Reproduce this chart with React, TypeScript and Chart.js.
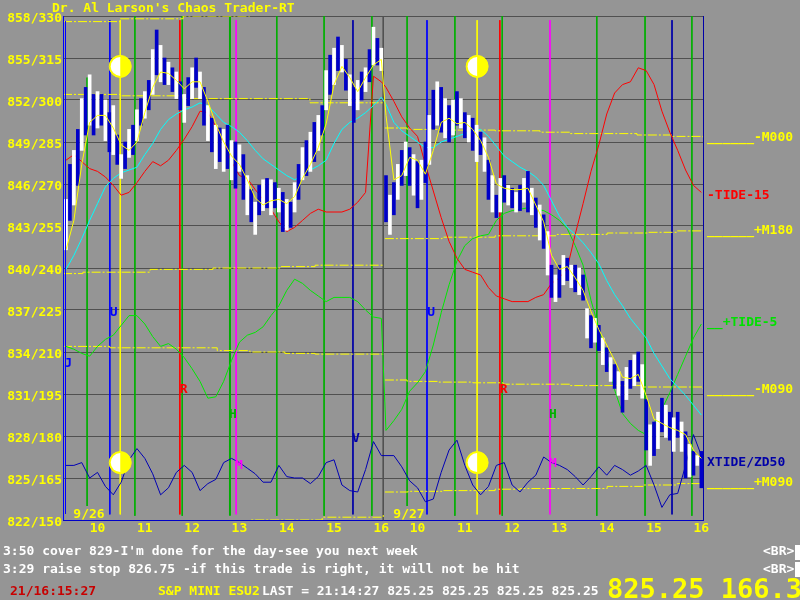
import React, { useEffect, useRef } from "react";
import { Chart, registerables } from "chart.js";

Chart.register(...registerables);

const FONT = '"DejaVu Sans Mono", "Liberation Mono", monospace';
const BG = "#959595";
const DAY2_SHIFT = 6.765; // second session placed after the first on a shared hour axis
const X_MIN = 9.27;
const X_MAX = 22.8;

// ---------------- data ----------------
const barTimes = [
  "9:20", "9:25", "9:30", "9:35", "9:40", "9:45", "9:50", "9:55",
  "10:00", "10:05", "10:10", "10:15", "10:20", "10:25", "10:30", "10:35", "10:40", "10:45", "10:50", "10:55",
  "11:00", "11:05", "11:10", "11:15", "11:20", "11:25", "11:30", "11:35", "11:40", "11:45", "11:50", "11:55",
  "12:00", "12:05", "12:10", "12:15", "12:20", "12:25", "12:30", "12:35", "12:40", "12:45", "12:50", "12:55",
  "13:00", "13:05", "13:10", "13:15", "13:20", "13:25", "13:30", "13:35", "13:40", "13:45", "13:50", "13:55",
  "14:00", "14:05", "14:10", "14:15", "14:20", "14:25", "14:30", "14:35", "14:40", "14:45", "14:50", "14:55",
  "15:00", "15:05", "15:10", "15:15", "15:20", "15:25", "15:30", "15:35", "15:40", "15:45", "15:50", "15:55",
  "16:00",
];
const lineTimes = barTimes.filter((_, i) => i % 2 === 0);

// price bars [low, high]
const priceDay1 = [
  [841.3, 844.9], [843.4, 847.4], [844.5, 848.4], [845.9, 849.9], [848.4, 852.1], [849.5, 852.9], [850.2, 853.8], [849.5, 852.4], [850, 852.6], [850.2, 852.4],
  [849.1, 852], [848.3, 851.1], [848.1, 851.6], [847.4, 849.5], [846.4, 848.1], [847.1, 849], [847.9, 849.9], [848.1, 850.2], [849.1, 851.3], [850.2, 852.1],
  [850.7, 852.6], [851.3, 853.4], [852.4, 855.6], [853.8, 857], [853.3, 855.9], [853.1, 855], [853.1, 854.7], [852.6, 854.3], [852.1, 854], [851.3, 853.3],
  [850.4, 852.4], [851.6, 853.6], [852.1, 854.3], [852.9, 855], [852.1, 854], [850.2, 852.9], [849.1, 851.6], [848.3, 850.7], [847.1, 850.2], [847.6, 850],
  [846.9, 849.9], [847.1, 850.2], [846.3, 849.1], [845.7, 849], [846.9, 848.8], [844.9, 848.1], [843.8, 846.6], [843.3, 845.6], [842.4, 844.7], [843.8, 845.9],
  [844.1, 846.3], [844.3, 846.4], [843.8, 846.3], [844.3, 846.1], [844, 845.7], [842.6, 845.4], [842.7, 844.9], [842.9, 844.7], [844, 846.1], [844.9, 847.4],
  [846.3, 848.6], [846.6, 849.1], [846.9, 849.7], [847.6, 850.4], [848.4, 850.9], [849.5, 851.6], [851.3, 854.1], [852.4, 855.2], [853.1, 855.7], [854.1, 856.5],
  [854, 855.9], [852.7, 854.9], [851.6, 853.8], [850.4, 852.9], [851.3, 853.4], [852, 854], [852.6, 854.3], [853.3, 855.6], [854.5, 857.2], [854.5, 856.4],
  [854.1, 855.7],
];
const priceDay2 = [
  [843.3, 846.6], [842.4, 845.2], [843.8, 846.1], [844.9, 847.4], [845.9, 848.4], [846.6, 849], [845.9, 848.6], [845.2, 848.1], [844.3, 847.6], [844.9, 847.7],
  [846.1, 849], [847.4, 850.9], [849.9, 852.7], [850.2, 853.3], [849.7, 852.9], [849.3, 852.1], [849, 851.6], [849.5, 852], [850.2, 852.6], [850, 852.1],
  [849.3, 851.1], [849, 850.9], [848.4, 850.7], [847.6, 850.2], [848.1, 849.7], [846.9, 849.3], [844.9, 847.7], [844, 846.6], [843.6, 845.2], [844, 846.4],
  [844.7, 846.6], [844.5, 845.9], [844.3, 845.7], [844, 845.4], [844.1, 845.9], [844.7, 846.4], [844, 846.9], [843.8, 845.7], [842.9, 845], [842, 844.5],
  [841.4, 843.8], [839.5, 842.6], [837.9, 840.2], [837.6, 839.5], [837.9, 840.2], [838.8, 840.9], [839.1, 840.7], [838.6, 840.2], [838.3, 840.2], [838.1, 840],
  [837.7, 839.5], [835, 837.1], [834.3, 836.6], [834.7, 836.4], [834.1, 835.9], [833.1, 835], [832.6, 834.3], [831.9, 833.6], [831.4, 833.1], [830.9, 832.6],
  [829.7, 831.9], [830.6, 832.9], [831.4, 833.4], [831.6, 833.8], [831.9, 834], [830.7, 833.1], [827, 830.6], [825.9, 828.8], [826.6, 829], [827.1, 829.7],
  [828.3, 830.7], [827.9, 830.2], [827.7, 829.7], [826.9, 829.3], [827.9, 829.7], [826.9, 829], [825, 828.3], [825.1, 827.4], [825.2, 826.9], [825.9, 826.6],
  [824.3, 826.9],
];

// fast average (yellow)
const avgFastDay1 = [841.3, 843.4, 847.4, 850.4, 850.9, 850.9, 850, 848.8, 848.4, 849, 851.1, 852.9, 854, 853.9, 853.4, 852.8, 853.3, 853.3, 851.9, 850.3, 849, 848, 847.4, 846.3, 845, 844.5, 844.8, 844.9, 844.6, 845.1, 846.4, 847.4, 848.6, 850.3, 853.1, 854.4, 853.6, 852.6, 853.6, 854.5, 854.9];
const avgFastDay2 = [850.9, 846.3, 846.6, 847.9, 847.7, 846.7, 848.4, 850.4, 850.7, 850.3, 850.4, 849.9, 849.1, 847.9, 846, 845.7, 845.6, 845.6, 845.7, 844.5, 843.3, 840.9, 839.9, 840.1, 839.3, 838.4, 836.9, 835.6, 834.5, 833.4, 832.2, 832.1, 832.4, 830.9, 829.2, 828.9, 828.6, 828.4, 828.1, 827, 826.4];
// slow average (cyan)
const avgSlowDay1 = [839.9, 840.9, 842.1, 843.4, 844.6, 845.8, 846.4, 846.8, 847, 847.2, 848.1, 848.9, 849.9, 850.6, 851, 851.3, 851.5, 851.8, 851.6, 851, 850.4, 850.1, 849.7, 849.1, 848.4, 847.8, 847.4, 847, 846.6, 846.3, 846.6, 847, 847.3, 847.7, 848.9, 849.9, 850.4, 850.7, 851.1, 851.6, 852.2];
const avgSlowDay2 = [851.7, 850.4, 849.8, 849.4, 849, 848.6, 848.6, 849, 849.2, 849.4, 849.6, 849.8, 849.9, 849.4, 848.7, 848, 847.6, 847.2, 846.9, 846.5, 845.9, 844.8, 843.7, 842.9, 842.4, 841.8, 841.1, 840.3, 839.1, 838.1, 837.3, 836.4, 835.7, 835, 833.9, 833, 832.1, 831.5, 830.9, 830.2, 829.5];
// -TIDE-15 (red)
const tide15Day1 = [847.7, 848.1, 847.6, 847.1, 846.9, 846.5, 845.9, 845.2, 845.4, 846.1, 846.9, 847.6, 847.3, 847.7, 848.4, 849.2, 850.1, 851.2, 851.1, 850.1, 848.9, 847.6, 846.6, 846.4, 845.6, 844.9, 844.2, 843.3, 842.6, 842.9, 843.4, 843.9, 844.2, 844, 844, 844, 844.2, 844.7, 845.4, 853.7, 853.3];
const tide15Day2 = [852.9, 851.9, 850.8, 850, 849.4, 847.4, 845.5, 843.6, 841.9, 840.7, 839.9, 839.7, 839.5, 838.6, 838, 837.8, 837.6, 837.6, 837.6, 837.9, 838.1, 838.9, 839.3, 840, 842.4, 844.6, 846.9, 848.8, 851, 852.5, 853.1, 853.3, 854.3, 854.1, 853.1, 851.2, 849.7, 848.4, 847, 845.9, 845.4];
// +TIDE-5 (green)
const tide5Day1 = [834.4, 834.2, 833.9, 833.7, 834.4, 834.9, 835.2, 835.9, 836.6, 836.6, 836, 835.1, 834.4, 834.6, 834.2, 833.6, 832.8, 831.9, 830.7, 830.8, 831.9, 833.4, 834.7, 835.2, 835.4, 835.8, 836.6, 837.3, 838.4, 839.2, 838.9, 838.4, 838, 837.6, 837.9, 837.9, 837.9, 837.6, 837, 836.5, 836.4];
const tide5Day2 = [828.4, 829.1, 829.9, 831.2, 831.8, 832.6, 834.5, 836.8, 838.8, 840.5, 841.6, 842.1, 842.3, 842.4, 843.4, 843.9, 844.1, 844.2, 844.3, 844.2, 844.1, 843.8, 843.4, 842.8, 841.6, 840.2, 837.7, 835.7, 833.6, 831.3, 829.6, 828.9, 828.4, 828.1, 828.9, 829.9, 831.1, 832.4, 833.7, 835, 836];
// XTIDE/ZD50 (dark blue)
const xtideDay1 = [825.9, 825.9, 826.1, 825, 825.4, 824.4, 823.8, 824.7, 826.3, 827.1, 826.4, 825.3, 823.8, 824.3, 825.4, 825.9, 825.4, 824.1, 824.6, 824.9, 826.1, 826.4, 826.1, 825.7, 825.3, 824.7, 824.7, 825.9, 825.1, 825, 825, 824.6, 825.1, 826.1, 826.3, 824.5, 824.1, 824, 825.6, 827.6, 826.6];
const xtideDay2 = [826.6, 826.6, 825.8, 824.8, 824.3, 823.3, 823.5, 825.4, 827, 827.7, 825.9, 824.5, 823.8, 824.4, 825.9, 826.1, 824.5, 824, 824.7, 825.2, 826.5, 826.1, 825.9, 825.6, 825.1, 824.5, 825.1, 825.8, 825.2, 825.9, 825.6, 825.2, 825.5, 825.9, 824.5, 822.9, 823.8, 823.9, 825.9, 828.1, 826.6];

// M levels [hour, price], stepped
const mDay1A = [[9.27, 857.6], [10.48, 857.8], [11.81, 858], [13.22, 858]];
const mDay1B = [[9.27, 852.4], [10.48, 852.3], [11.81, 852.1], [14.49, 851.8], [16.04, 851.8]];
const mDay1C = [[9.27, 839.6], [9.69, 839.7], [11.11, 839.9], [12.44, 840], [13.86, 840.1], [14.6, 840.2], [16.04, 840.2]];
const mDay1D = [[9.27, 834.4], [10.26, 834.3], [12.53, 834.1], [13.22, 834], [13.96, 833.9], [14.6, 833.85], [16.04, 833.8]];
const mDay1E = [[9.27, 821.8], [13.22, 822], [14.75, 822.2], [16.04, 822.4]];
const m000Day2 = [[9.31, 850], [9.78, 849.9], [10.43, 849.85], [11.64, 849.8], [12.59, 849.7], [13.22, 849.6], [14.64, 849.5], [15.39, 849.4], [16.04, 849.3]];
const m180Day2 = [[9.31, 842.1], [10.52, 842.2], [11.64, 842.3], [12.95, 842.4], [14.01, 842.5], [14.86, 842.55], [15.49, 842.65], [16.04, 842.7]];
const m090Day2 = [[9.31, 832], [9.78, 831.9], [10.43, 831.85], [11.17, 831.8], [11.81, 831.7], [13.22, 831.6], [14.77, 831.5], [16.04, 831.35]];
const p090Day2 = [[9.31, 824], [9.8, 824.05], [10.52, 824.1], [11.64, 824.2], [12.17, 824.25], [14.01, 824.4], [14.77, 824.5], [15.49, 824.6], [16.04, 824.7]];

// vertical time markers
const verticalHoursDay1 = [9.78, 10.26, 10.48, 10.79, 11.74, 11.79, 12.8, 12.93, 13.79, 14.79, 15.4, 15.8, 16.04];
const verticalKindsDay1 = ["g", "b", "y", "g", "r", "g", "G", "m", "g", "g", "n", "g", "k"];
const verticalTopsDay1 = [853.6, 857.7, 857.7, 858, 857.7, 858, 858, 857.7, 858, 858, 857.7, 858, 858];
const verticalBottomsDay1 = [823, 822.4, 822.4, 822.3, 822.4, 822.3, 822.3, 822.4, 822.3, 822.3, 822.4, 822.3, 822];
const verticalHoursDay2 = [9.78, 10.2, 10.79, 11.26, 11.74, 11.79, 12.8, 13.79, 14.81, 15.38, 15.8];
const verticalKindsDay2 = ["g", "b", "g", "y", "r", "g", "m", "g", "g", "n", "g"];
const verticalTopsDay2 = [858, 857.7, 858, 857.7, 857.7, 858, 857.7, 858, 858, 857.7, 858];
const verticalBottomsDay2 = [823, 822.4, 822.3, 822.4, 822.4, 822.3, 822.4, 822.3, 822.3, 822.4, 822.3];

// letter markers
const markerLetters = ["J", "U", "R", "H", "M", "V", "U", "R", "H", "M"];
const markerDays = [0, 0, 0, 0, 0, 0, 1, 1, 1, 1];
const markerHours = [9.38, 10.34, 11.82, 12.86, 12.99, 15.46, 10.29, 11.82, 12.86, 12.86];
const markerPrices = [833.2, 836.8, 831.3, 829.5, 825.9, 827.8, 836.8, 831.3, 829.5, 826.0];
const markerKinds = ["b", "b", "r", "g", "m", "n", "b", "r", "g", "m"];

// moon symbols
const moonDays = [0, 0, 1, 1];
const moonHours = [10.48, 10.48, 11.26, 11.26];
const moonPrices = [854.4, 826.1, 854.4, 826.1];

// session date labels
const dateLabels = ["9/26", "9/27"];
const dateHours = [9.82, 9.82];
const datePrice = 822.4;

// axis labels
const yTickPrices = [822, 825, 828, 831, 834, 837, 840, 843, 846, 849, 852, 855, 858];
const yTickAlt = [150, 165, 180, 195, 210, 225, 240, 255, 270, 285, 300, 315, 330];
const xTickHours = [10, 11, 12, 13, 14, 15, 16];

// right-hand labels
const rightLabelTexts = ["______-M000", "-TIDE-15", "______+M180", "__+TIDE-5", "______-M090", "XTIDE/ZD50", "______+M090"];
const rightLabelPrices = [849.3, 845.2, 842.7, 836.1, 831.3, 826.1, 824.7];
const rightLabelKinds = ["y", "r", "y", "g2", "y", "n", "y"];

// message lines
const messages = [
  "3:50 cover 829-I'm done for the day-see you next week",
  "3:29 raise stop 826.75 -if this trade is right, it will not be hit",
];
const statusClock = "21/16:15:27";
const statusSymbol = "S&P MINI ESU2";
const statusLast = "LAST = 21:14:27 825.25 825.25 825.25 825.25";
const statusBig = "825.25 166.3";

// ---------------- styles ----------------
const COLORS: Record<string, string> = {
  g: "#00b000",
  G: "#00b000",
  g2: "#00e000",
  b: "#0000ff",
  n: "#0000a8",
  y: "#ffff00",
  r: "#ff0000",
  m: "#ff00ff",
  k: "#505050",
};

const hourOf = (t: string) => {
  const [h, m] = t.split(":").map(Number);
  return h + m / 60;
};
const axisX = (day: number, hour: number) => hour + day * DAY2_SHIFT;

const joinDays = (d1: number[], d2: number[]) => [
  ...d1.map((y, i) => ({ x: axisX(0, hourOf(lineTimes[i])), y })),
  ...d2.map((y, i) => ({ x: axisX(1, hourOf(lineTimes[i])), y })),
];
const stepPts = (day: number, pts: number[][]) => pts.map(([h, y]) => ({ x: axisX(day, h), y }));

function lineDs(data: any[], color: string, order: number, extra: any = {}) {
  return {
    type: "line",
    data,
    borderColor: color,
    backgroundColor: color,
    borderWidth: 1,
    pointRadius: 0,
    tension: 0,
    fill: false,
    order,
    ...extra,
  };
}

function buildDatasets() {
  const ds: any[] = [];
  const addVerticals = (day: number, hours: number[], kinds: string[], tops: number[], bottoms: number[]) => {
    hours.forEach((h, i) => {
      const x = axisX(day, h);
      ds.push(
        lineDs([{ x, y: tops[i] }, { x, y: bottoms[i] }], COLORS[kinds[i]], 20, {
          borderWidth: kinds[i] === "G" ? 2 : 1,
        })
      );
    });
  };
  addVerticals(0, verticalHoursDay1, verticalKindsDay1, verticalTopsDay1, verticalBottomsDay1);
  addVerticals(1, verticalHoursDay2, verticalKindsDay2, verticalTopsDay2, verticalBottomsDay2);

  const mStyle = { stepped: "before", borderDash: [9, 2, 2, 2] };
  [mDay1A, mDay1B, mDay1C, mDay1D, mDay1E].forEach((m) => ds.push(lineDs(stepPts(0, m), "#ffff00", 15, mStyle)));
  [m000Day2, m180Day2, m090Day2, p090Day2].forEach((m) => ds.push(lineDs(stepPts(1, m), "#ffff00", 15, mStyle)));

  ds.push(lineDs(joinDays(xtideDay1, xtideDay2), "#0000b4", 8));
  ds.push(lineDs(joinDays(tide5Day1, tide5Day2), "#00e800", 8));
  ds.push(lineDs(joinDays(tide15Day1, tide15Day2), "#ff0000", 7));
  ds.push(lineDs(joinDays(avgSlowDay1, avgSlowDay2), "#00ffff", 6));

  const bars = [
    ...priceDay1.map((r, i) => ({ x: axisX(0, hourOf(barTimes[i])), y: r })),
    ...priceDay2.map((r, i) => ({ x: axisX(1, hourOf(barTimes[i])), y: r })),
  ];
  // alternate white / blue strokes like the terminal's bar rendering
  const barColors = bars.map((_, i) => (i % 2 === 0 ? "#ffffff" : "#0000c8"));
  ds.push({
    type: "bar",
    data: bars,
    backgroundColor: barColors,
    borderWidth: 0,
    barThickness: 3,
    grouped: false,
    order: 3,
  });

  ds.push(lineDs(joinDays(avgFastDay1, avgFastDay2), "#ffff00", 1));
  return ds;
}

function txt(ctx: any, s: string, x: number, y: number, color: string, size = 13, align = "left", baseline = "middle") {
  ctx.font = `bold ${size}px ${FONT}`;
  ctx.fillStyle = color;
  ctx.textAlign = align;
  ctx.textBaseline = baseline;
  ctx.fillText(s, x, y);
}

function drawMoon(ctx: any, cx: number, cy: number, r: number) {
  ctx.beginPath();
  ctx.arc(cx, cy, r, 0, Math.PI * 2);
  ctx.fillStyle = "#ffff00";
  ctx.fill();
  ctx.beginPath();
  ctx.arc(cx, cy, r - 1.5, Math.PI / 2, (Math.PI * 3) / 2);
  ctx.closePath();
  ctx.fillStyle = "#ffffff";
  ctx.fill();
  ctx.beginPath();
  ctx.arc(cx, cy, r, 0, Math.PI * 2);
  ctx.strokeStyle = "#ffff00";
  ctx.lineWidth = 1;
  ctx.stroke();
}

const overlay = {
  id: "overlay",
  afterDatasetsDraw(chart: any) {
    const { ctx, chartArea: a, scales } = chart;
    const x = scales.x;
    const y = scales.y;
    ctx.save();
    ctx.lineWidth = 1;
    const seg = (x1: number, y1: number, x2: number, y2: number, c: string) => {
      ctx.beginPath();
      ctx.moveTo(x1, y1);
      ctx.lineTo(x2, y2);
      ctx.strokeStyle = c;
      ctx.stroke();
    };
    seg(a.left + 0.5, a.top, a.left + 0.5, a.bottom, "#0000ff");
    seg(a.left + 2.5, a.top + 5, a.left + 2.5, a.bottom - 6, "#0000ff");
    seg(a.right + 0.5, a.top, a.right + 0.5, a.bottom, "#0000a8");
    seg(a.left, a.bottom + 0.5, a.right + 1, a.bottom + 0.5, "#0000c8");

    moonHours.forEach((h, i) => {
      drawMoon(ctx, x.getPixelForValue(axisX(moonDays[i], h)), y.getPixelForValue(moonPrices[i]), 11);
    });
    markerLetters.forEach((l, i) => {
      txt(ctx, l, x.getPixelForValue(axisX(markerDays[i], markerHours[i])), y.getPixelForValue(markerPrices[i]), COLORS[markerKinds[i]], 13, "center");
    });
    dateLabels.forEach((l, i) => {
      txt(ctx, l, x.getPixelForValue(axisX(i, dateHours[i])), y.getPixelForValue(datePrice), "#ffff00", 13, "center");
    });
    ctx.restore();
  },
  afterDraw(chart: any) {
    const { ctx, chartArea: a, scales } = chart;
    const y = scales.y;
    ctx.save();
    txt(ctx, "Dr. Al Larson's Chaos Trader-RT", 52, 8.5, "#ffff00");
    rightLabelTexts.forEach((t, i) => {
      txt(ctx, t, a.right + 4, y.getPixelForValue(rightLabelPrices[i]), COLORS[rightLabelKinds[i]]);
    });
    txt(ctx, messages[0], 3, 552, "#ffffff");
    txt(ctx, messages[1], 3, 569.5, "#ffffff");
    txt(ctx, "<BR>", 763, 552, "#ffffff");
    txt(ctx, "<BR>", 763, 569.5, "#ffffff");
    ctx.fillStyle = "#ffffff";
    ctx.fillRect(795, 545, 5, 15);
    ctx.fillRect(795, 562, 5, 15);
    txt(ctx, statusClock, 10, 592, "#c80000");
    txt(ctx, statusSymbol, 158, 592, "#ffff00");
    txt(ctx, statusLast, 262, 592, "#ffffff");
    txt(ctx, statusBig, 607, 598, "#ffff00", 27, "left", "alphabetic");
    ctx.restore();
  },
};

export default function App() {
  const ref = useRef<HTMLCanvasElement | null>(null);
  useEffect(() => {
    const canvas = ref.current;
    if (!canvas) return;
    const xTickValues = [...xTickHours.map((h) => axisX(0, h)), ...xTickHours.map((h) => axisX(1, h))];
    const xTickText = [...xTickHours, ...xTickHours].map(String);
    const chart = new Chart(canvas, {
      type: "line",
      data: { datasets: buildDatasets() as any },
      options: {
        responsive: false,
        animation: false,
        devicePixelRatio: 1,
        events: [],
        layout: { padding: { top: 16, right: 97, left: 0, bottom: 0 } },
        plugins: { legend: { display: false }, tooltip: { enabled: false }, title: { display: false } },
        scales: {
          x: {
            type: "linear",
            min: X_MIN,
            max: X_MAX,
            offset: false,
            grid: { display: false, drawTicks: false, offset: false },
            border: { display: false },
            afterBuildTicks: (s: any) => {
              s.ticks = xTickValues.map((v) => ({ value: v }));
            },
            afterFit: (s: any) => {
              s.height = 80;
            },
            ticks: {
              autoSkip: false,
              maxRotation: 0,
              padding: 1,
              color: "#ffff00",
              font: { family: FONT, size: 13, weight: "bold" },
              callback: (_v: any, i: number) => xTickText[i],
            },
          },
          y: {
            type: "linear",
            min: 822,
            max: 858,
            grid: { color: "#505050", lineWidth: 1, drawTicks: false },
            border: { display: false },
            afterBuildTicks: (s: any) => {
              s.ticks = yTickPrices.map((v) => ({ value: v }));
            },
            afterFit: (s: any) => {
              s.width = 63;
            },
            ticks: {
              padding: 1,
              labelOffset: 3,
              color: "#ffff00",
              font: { family: FONT, size: 13, weight: "bold" },
              callback: (v: any) => {
                const i = yTickPrices.indexOf(Number(v));
                return `${v}/${yTickAlt[i]}`;
              },
            },
          },
        },
      } as any,
      plugins: [overlay as any],
    });
    return () => chart.destroy();
  }, []);
  return (
    <div style={{ position: "absolute", left: 0, top: 0, width: 800, height: 600, background: BG, overflow: "hidden" }}>
      <canvas ref={ref} width={800} height={600} style={{ display: "block", width: 800, height: 600 }} />
    </div>
  );
}
